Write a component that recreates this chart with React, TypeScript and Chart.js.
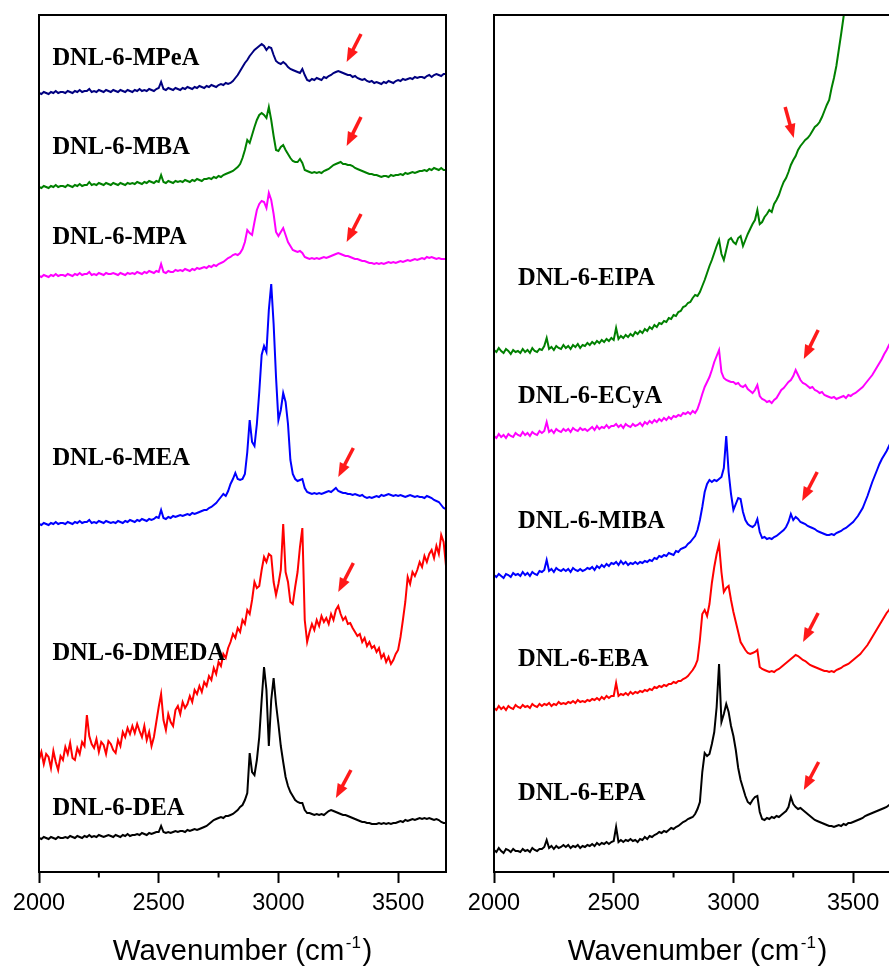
import { useEffect, useRef } from "react";
import { Chart, registerables } from "chart.js";

Chart.register(...registerables);

// Shared wavenumber grid for every spectrum (cm-1)
const WN_START = 2000;
const WN_STEP = 10;
const WN_END = 3700;
const WAVENUMBERS: number[] = [];
for (let w = WN_START; w <= WN_END; w += WN_STEP) WAVENUMBERS.push(w);

const MAJOR_TICKS = [2000, 2500, 3000, 3500];
const MINOR_TICKS = [2250, 2750, 3250];
const AXIS_TITLE = "Wavenumber (cm";
const AXIS_TITLE_SUP = "-1";
const AXIS_TITLE_END = ")";

// Offset-stacked intensities (a.u.), one value per grid point
const MPEA = [
  779, 778, 780, 779, 778, 780, 779, 781, 779, 780,
  780, 779, 781, 780, 779, 781, 780, 782, 780, 781,
  781, 783, 780, 781, 780, 782, 781, 780, 782, 781,
  780, 782, 781, 780, 782, 781, 780, 782, 781, 780,
  782, 781, 783, 781, 782, 781, 783, 782, 781, 783,
  784, 790, 783, 782, 784, 783, 782, 784, 783, 782,
  784, 783, 785, 784, 783, 785, 784, 786, 785, 784,
  786, 785, 787, 786, 785, 787, 788, 787, 789, 788,
  789, 791, 794, 797, 801, 805, 809, 812, 816, 819,
  822, 824, 826, 828, 826, 822, 825, 824, 817, 811,
  809, 808, 810, 808, 805, 803, 802, 801, 800, 799,
  803, 797, 792, 791, 793, 792, 794, 793, 792, 795,
  794, 796, 797, 799, 800, 801, 800, 799, 798, 797,
  797, 795, 796, 794, 793, 792, 793, 791, 790, 791,
  789, 790, 789, 788, 790, 789, 791, 790, 789, 791,
  792, 791, 793, 792, 793, 794, 793, 795, 794, 795,
  795, 794, 796, 797, 795, 797, 798, 797, 796, 798,
  798,
];

const MBA = [
  685, 684, 686, 685, 684, 686, 685, 687, 685, 686,
  686, 685, 687, 686, 685, 687, 686, 688, 686, 687,
  687, 690, 687, 688, 687, 689, 688, 687, 689, 688,
  687, 689, 688, 687, 689, 688, 687, 689, 688, 689,
  688, 690, 689, 688, 690, 689, 691, 690, 689, 691,
  690, 697, 690, 689, 691, 690, 689, 691, 690, 691,
  690, 692, 691, 690, 692, 691, 693, 692, 691, 693,
  693, 694, 693, 695, 694, 696, 695, 697, 698, 699,
  700, 701, 703, 705, 708, 714, 722, 732, 729, 737,
  745, 752, 757, 759, 757, 754, 765, 752, 736, 722,
  721, 725, 727, 722, 718, 714, 711, 710, 710, 713,
  709, 702, 701, 700, 699, 700, 699, 700, 699, 701,
  702, 703, 705, 707, 708, 709, 710, 708, 708, 707,
  707, 706, 704, 703, 702, 701, 700, 699, 698, 698,
  697, 697, 696, 695, 696, 696, 695, 697, 696, 697,
  697, 698, 697, 699, 698, 699, 700, 699, 700, 701,
  701, 702, 701, 703, 702, 704, 703, 702, 704, 702,
  702,
];

const MPA = [
  596, 595, 597, 596, 595, 597, 596, 598, 596, 597,
  597, 596, 598, 597, 596, 598, 597, 599, 597, 598,
  598, 600, 597, 598, 597, 599, 598, 597, 599, 598,
  598, 599, 598, 597, 599, 598, 597, 599, 598, 599,
  598, 600, 599, 598, 600, 599, 601, 600, 599, 601,
  600, 608, 600, 599, 601, 600, 600, 602, 601, 602,
  601, 603, 602, 601, 603, 602, 604, 603, 604, 605,
  604, 606, 605, 607, 606, 608, 609, 610, 612, 614,
  615, 617, 618, 617, 619, 623, 630, 642, 639, 637,
  650, 662, 668, 671, 670, 664, 679, 672, 658, 640,
  636, 640, 644, 637, 630, 626, 622, 621, 620, 621,
  619, 615, 614, 613, 614, 613, 614, 613, 614, 615,
  614, 615, 616, 617, 618, 619, 618, 617, 616, 616,
  615, 614, 613, 613, 612, 611, 611, 610, 609, 609,
  608, 609, 608, 609, 608, 609, 610, 609, 610, 609,
  610, 611, 610, 611, 612, 611, 612, 613, 612, 613,
  614, 613, 615, 614, 615, 614, 613, 614, 613, 613,
  613,
];

const MEA = [
  348, 347, 349, 348, 347, 349, 348, 350, 348, 349,
  349, 348, 350, 349, 348, 350, 349, 351, 349, 350,
  350, 352, 349, 350, 349, 351, 350, 349, 351, 350,
  349, 350, 349, 351, 350, 349, 351, 350, 352, 351,
  350, 352, 351, 353, 352, 351, 353, 352, 353, 355,
  354, 362, 354, 353, 355, 354, 356, 355, 356, 357,
  356, 357, 358, 357, 359, 358, 359, 360, 361, 362,
  362, 364, 365, 367, 369, 372, 375, 378, 376, 381,
  388, 393, 399, 393, 392, 393, 398, 420, 452, 430,
  426, 448, 480, 517, 526, 520, 562, 588, 548, 495,
  452, 462, 479, 470, 448, 412, 398, 393, 391, 392,
  393, 384, 380, 379, 378, 379, 378, 379, 378, 379,
  380, 381, 380, 382, 384, 381, 380, 379, 379, 378,
  378, 377, 378, 377, 376, 377, 375, 374, 375, 374,
  375, 376, 375, 377, 376, 377, 378, 377, 376, 377,
  376, 377, 376, 375, 376, 377, 376, 375, 376, 375,
  375, 374, 376, 375, 374, 372, 371, 370, 367, 364,
  363,
];

const DMEDA = [
  112, 120, 108, 118, 115, 104, 121, 110, 102, 116,
  112, 125, 118, 129, 114, 112, 124, 118, 130, 126,
  157, 136, 128, 124, 133, 120, 130, 127, 118, 131,
  128, 122, 119, 132, 126, 140, 135, 144, 138, 146,
  139, 148, 141, 135, 146, 132, 140, 126, 135, 150,
  165, 178, 152, 142, 158, 150, 146, 162, 166, 158,
  170, 164, 168, 176, 170, 182, 178, 186, 180, 190,
  186, 196, 192, 204, 198, 210, 206, 218, 214, 224,
  230, 238, 234, 244, 240, 252, 248, 262, 258, 272,
  290, 284, 286, 302, 315, 310, 318, 316, 290, 277,
  288, 302, 348, 300, 290, 270, 268, 285, 300, 325,
  344, 252, 230, 240, 248, 242, 252, 246, 256, 250,
  254, 248, 258, 252, 262, 266, 258, 252, 255, 248,
  249, 244, 240, 236, 238, 230, 234, 226, 230, 224,
  226, 220, 224, 214, 218, 210, 215, 208, 212, 218,
  222, 235, 252, 270, 295, 288, 300, 296, 302, 310,
  305, 316, 310, 318, 322, 314, 326, 318, 337, 330,
  306,
];

const DEA = [
  34, 33, 35, 34, 33, 35, 34, 33, 35, 34,
  34, 35, 34, 36, 35, 34, 36, 35, 34, 36,
  35, 37, 35, 36, 35, 37, 36, 35, 36, 37,
  36, 35, 37, 36, 35, 37, 36, 38, 36, 37,
  37, 38, 37, 39, 38, 37, 39, 38, 39, 40,
  40, 46, 40, 39, 40, 39, 40, 41, 40, 41,
  41, 40, 42, 41, 42, 43, 42, 43, 44, 45,
  46, 48, 50, 52, 53, 54, 55, 54, 56, 56,
  57, 58, 60, 62, 65, 67, 72, 79, 119, 100,
  97, 112, 135, 172, 205, 182, 126, 172, 194, 168,
  148, 126, 110, 95, 86, 80, 76, 72, 70, 69,
  69, 62, 59, 59, 58, 57, 58, 57, 58, 57,
  59, 61, 62, 61, 60, 59, 58, 57, 57, 56,
  55, 54, 53, 52, 51, 50, 50, 49, 49, 48,
  48, 48, 49, 48, 49, 48, 49, 48, 49, 49,
  50, 51, 50, 52, 51, 52, 53, 52, 53, 54,
  53, 54, 53, 54, 53, 52, 53, 52, 50, 49,
  49,
];

// EIPA rises out of the frame near 3460 cm-1, so it stops there
const EIPA = [
  522, 520, 524, 521, 519, 523, 521, 518, 522, 520,
  521, 519, 523, 520, 522, 519, 524, 521, 520, 523,
  522, 526, 534, 523, 525, 522, 526, 524, 523, 527,
  524, 526, 523, 527, 525, 528, 524, 527, 526, 529,
  527, 530, 528, 531, 529, 532, 530, 533, 531, 534,
  532, 544, 533, 536, 534, 537, 535, 538, 536, 540,
  538, 541, 539, 543, 541, 545, 543, 547, 545, 549,
  548, 551, 550, 554, 553, 557, 556, 560, 561, 565,
  566, 569, 570, 574, 577, 576, 580, 586, 592, 599,
  606, 612, 619, 626, 632, 618, 612, 622, 632, 634,
  630, 628, 634, 636, 626, 632, 638, 643, 648, 652,
  662, 648, 650, 655, 658, 662, 660, 668, 672, 677,
  684, 690, 694, 700, 707, 712, 716, 722, 726, 729,
  732, 734, 737, 741, 745, 747, 750, 755, 761, 767,
  772, 784, 794, 806, 822, 838, 855, 872, 890,
];

const ECYA = [
  436, 434, 438, 435, 437, 434, 438, 436, 435, 439,
  437, 436, 440, 437, 439, 436, 440, 438, 437, 441,
  439, 441, 450, 440, 442, 439, 443, 441, 440, 443,
  441, 443, 440, 444, 442, 441, 444, 442, 443, 441,
  443, 445, 442, 446, 443, 445, 444, 447, 444, 446,
  446, 448, 445, 447, 444, 448, 446, 445, 448, 446,
  447, 449, 446, 450, 448, 451, 449, 452, 450, 453,
  451, 454, 452, 455, 453, 456, 455, 457, 456, 459,
  458, 460, 458, 461, 459, 463, 470, 478, 485, 490,
  495, 502, 510, 516, 522, 500, 494, 492, 491, 490,
  490, 488, 489, 486, 485, 487, 483, 481, 479, 482,
  487, 476, 473, 472, 470, 471, 469, 472, 474, 478,
  482, 484, 487, 490, 492, 496, 502, 497, 492, 489,
  488, 486, 484, 485, 482, 481, 479, 480, 477, 476,
  475, 474, 475, 473, 474, 475, 476, 474, 477, 476,
  478, 479, 481, 483, 485, 488, 491, 494, 497, 501,
  505, 509, 513, 518, 522, 527, 531, 536, 541, 545,
  550,
];

const MIBA = [
  297, 295, 298, 296, 294, 298, 297, 295, 299, 297,
  298, 296, 300, 297, 299, 296, 300, 298, 297, 301,
  300, 302, 312, 301, 303, 300, 304, 302, 301, 303,
  301, 303, 300, 304, 302, 301, 303, 301, 302, 304,
  303, 305, 302, 306, 304, 307, 305, 308, 306, 309,
  308, 310, 307, 311, 308, 310, 307, 309, 308, 310,
  308, 310, 309, 311, 310, 312, 311, 314, 313, 316,
  315, 317, 316, 319, 318, 317, 321, 320, 323, 324,
  325, 328, 330, 333, 336, 342, 352, 365, 380, 388,
  392, 390, 392, 391, 393, 395, 404, 436, 400, 378,
  362, 368, 374, 373, 360, 352, 348, 346, 345, 347,
  353, 340, 334, 335, 333, 334, 333, 335, 336, 338,
  340, 342, 345, 350, 358, 352, 355, 353, 350, 349,
  348, 346, 345, 344, 343, 341, 340, 339, 338, 337,
  337, 338, 337, 339, 340, 341, 343, 344, 346, 348,
  350, 353, 356, 360, 364, 370, 376, 383, 390, 396,
  402, 408, 413, 417, 421, 426, 431, 436, 440, 445,
  448,
];

const EBA = [
  164, 162, 166, 163, 165, 162, 166, 164, 163, 167,
  165, 164, 167, 165, 166, 164, 168, 166, 165, 168,
  166, 168, 167, 169, 166, 168, 167, 170, 168, 169,
  168, 170, 169, 171, 169, 172, 170, 171, 170, 172,
  171, 173, 172, 174, 172, 175, 173, 176, 174, 176,
  176, 189, 176, 178, 177, 179, 177, 180, 178, 180,
  179, 181, 180, 182, 181, 183, 182, 185, 184, 186,
  185, 187, 186, 188, 188, 190, 189, 191, 191, 193,
  194, 196, 199, 202, 206, 212, 232, 258, 262, 256,
  268, 289, 305, 318, 328, 300, 280, 284, 286, 272,
  260, 250, 240, 230, 226, 222, 219, 218, 219, 220,
  222, 205, 203, 202, 201, 200, 201, 200, 202, 203,
  205, 207, 209, 211, 213, 215, 217, 216, 214, 212,
  211, 209, 207, 206, 205, 204, 203, 202, 201, 201,
  200, 201, 200, 202, 203, 204, 206, 207, 208, 210,
  212, 214, 216, 218, 221, 224, 227, 231, 235, 239,
  243, 247, 251, 255, 259, 262, 266, 270, 274, 278,
  282,
];

const EPA = [
  22, 20, 24, 21, 19, 23, 22, 20, 23, 21,
  21, 20, 23, 21, 22, 20, 24, 22, 21, 23,
  23, 25, 32, 24, 26, 23, 26, 24, 25, 27,
  25, 27, 24, 26, 25, 27, 24, 26, 25, 27,
  26, 28, 26, 29, 27, 29, 28, 30, 28, 30,
  31, 45, 30, 32, 30, 32, 31, 33, 31, 32,
  30, 33, 32, 35, 33, 36, 35, 37, 38, 40,
  39, 41, 40, 42, 44, 43, 45, 46, 48, 50,
  51, 53, 54, 55, 58, 63, 70, 100, 119, 116,
  118, 128, 140, 165, 208, 150, 158, 168, 160, 146,
  136, 122, 104, 92, 84, 76, 70, 68, 72, 75,
  76, 60, 53, 52, 54, 53, 55, 54, 56, 55,
  57, 59, 61, 65, 75, 68, 65, 63, 64, 62,
  60, 58, 56, 54, 52, 51, 50, 49, 48, 47,
  46, 46, 45, 46, 47, 46, 48, 47, 49, 49,
  50, 51, 52, 53, 54, 56, 57, 58, 59, 60,
  61, 62, 63, 64, 65, 67, 68, 69, 70, 71,
  72,
];

type Spectrum = {
  name: string;
  color: string;
  values: number[];
  label: [number, number]; // label anchor (wavenumber, intensity)
  arrowFrom: [number, number];
  arrowTo: [number, number];
};

const LEFT_PANEL: Spectrum[] = [
  { name: "DNL-6-MPeA", color: "#000080", values: MPEA, label: [2056, 815], arrowFrom: [3345, 838], arrowTo: [3285, 810] },
  { name: "DNL-6-MBA", color: "#008000", values: MBA, label: [2056, 726], arrowFrom: [3345, 755], arrowTo: [3285, 726] },
  { name: "DNL-6-MPA", color: "#ff00ff", values: MPA, label: [2056, 636], arrowFrom: [3345, 658], arrowTo: [3285, 630] },
  { name: "DNL-6-MEA", color: "#0000ff", values: MEA, label: [2056, 415], arrowFrom: [3313, 424], arrowTo: [3250, 395] },
  { name: "DNL-6-DMEDA", color: "#ff0000", values: DMEDA, label: [2056, 220], arrowFrom: [3313, 309], arrowTo: [3250, 280] },
  { name: "DNL-6-DEA", color: "#000000", values: DEA, label: [2056, 65], arrowFrom: [3303, 102], arrowTo: [3240, 74] },
];

const RIGHT_PANEL: Spectrum[] = [
  { name: "DNL-6-EIPA", color: "#008000", values: EIPA, label: [2100, 595], arrowFrom: [3216, 765], arrowTo: [3252, 734] },
  { name: "DNL-6-ECyA", color: "#ff00ff", values: ECYA, label: [2100, 477], arrowFrom: [3354, 542], arrowTo: [3294, 513] },
  { name: "DNL-6-MIBA", color: "#0000ff", values: MIBA, label: [2100, 352], arrowFrom: [3350, 400], arrowTo: [3287, 371] },
  { name: "DNL-6-EBA", color: "#ff0000", values: EBA, label: [2100, 214], arrowFrom: [3354, 259], arrowTo: [3291, 230] },
  { name: "DNL-6-EPA", color: "#000000", values: EPA, label: [2100, 80], arrowFrom: [3356, 110], arrowTo: [3294, 82] },
];

const Y_MAX = 857;
const ARROW_COLOR = "#ff1a1a";
const CANVAS_W = 455;
const CANVAS_H = 967;

function makeDecor(spectra: Spectrum[]) {
  return {
    id: "panelDecor",
    afterDatasetsDraw(chart: any) {
      const { ctx, chartArea: a } = chart;
      const x = chart.scales.x;
      const y = chart.scales.y;
      ctx.save();

      // frame around the plot area
      ctx.strokeStyle = "#000";
      ctx.lineWidth = 2;
      ctx.strokeRect(a.left, a.top, a.right - a.left, a.bottom - a.top);

      // minor ticks
      for (const v of MINOR_TICKS) {
        const px = x.getPixelForValue(v);
        ctx.beginPath();
        ctx.moveTo(px, a.bottom);
        ctx.lineTo(px, a.bottom + 5.5);
        ctx.stroke();
      }

      // sample names
      ctx.fillStyle = "#000";
      ctx.font = "bold 24.5px 'Liberation Serif'";
      ctx.textAlign = "left";
      ctx.textBaseline = "alphabetic";
      for (const s of spectra) {
        ctx.fillText(s.name, x.getPixelForValue(s.label[0]), y.getPixelForValue(s.label[1]) + 8);
      }

      // red arrows marking the N-H band
      ctx.fillStyle = ARROW_COLOR;
      ctx.strokeStyle = ARROW_COLOR;
      for (const s of spectra) {
        const tx = x.getPixelForValue(s.arrowFrom[0]);
        const ty = y.getPixelForValue(s.arrowFrom[1]);
        const hx = x.getPixelForValue(s.arrowTo[0]);
        const hy = y.getPixelForValue(s.arrowTo[1]);
        const len = Math.hypot(hx - tx, hy - ty);
        const ux = (hx - tx) / len;
        const uy = (hy - ty) / len;
        const headLen = 14;
        const half = 5.5;
        const bx = hx - ux * headLen;
        const by = hy - uy * headLen;
        ctx.lineWidth = 3.5;
        ctx.beginPath();
        ctx.moveTo(tx, ty);
        ctx.lineTo(bx + ux, by + uy);
        ctx.stroke();
        ctx.beginPath();
        ctx.moveTo(hx, hy);
        ctx.lineTo(bx - uy * half, by + ux * half);
        ctx.lineTo(bx + uy * half, by - ux * half);
        ctx.closePath();
        ctx.fill();
      }

      // axis title with superscript
      const cx = (a.left + a.right) / 2;
      const base = x.bottom - 7;
      const mainFont = "29.5px 'Liberation Sans'";
      const supFont = "17px 'Liberation Sans'";
      const gap = 1.5;
      ctx.fillStyle = "#000";
      ctx.font = mainFont;
      const w1 = ctx.measureText(AXIS_TITLE).width;
      const w3 = ctx.measureText(AXIS_TITLE_END).width;
      ctx.font = supFont;
      const w2 = ctx.measureText(AXIS_TITLE_SUP).width;
      let start = cx - (w1 + w2 + w3 + 2 * gap) / 2;
      ctx.font = mainFont;
      ctx.fillText(AXIS_TITLE, start, base);
      start += w1 + gap;
      ctx.font = supFont;
      ctx.fillText(AXIS_TITLE_SUP, start, base - 12);
      start += w2 + gap;
      ctx.font = mainFont;
      ctx.fillText(AXIS_TITLE_END, start, base);

      ctx.restore();
    },
  };
}

function SpectraPanel({ spectra, left }: { spectra: Spectrum[]; left: number }) {
  const ref = useRef<HTMLCanvasElement | null>(null);

  useEffect(() => {
    if (!ref.current) return;
    const chart = new Chart(ref.current, {
      type: "line",
      data: {
        datasets: spectra.map((s) => ({
          label: s.name,
          data: s.values.map((v, i) => ({ x: WAVENUMBERS[i], y: v })),
          borderColor: s.color,
          backgroundColor: s.color,
          borderWidth: 2,
          pointRadius: 0,
          tension: 0,
          fill: false,
        })),
      },
      options: {
        animation: false,
        responsive: false,
        devicePixelRatio: 1,
        events: [],
        layout: { padding: { left: 39, right: 9, top: 15, bottom: 0 } },
        plugins: { legend: { display: false }, tooltip: { enabled: false }, title: { display: false } },
        scales: {
          x: {
            type: "linear",
            min: WN_START,
            max: WN_END,
            afterBuildTicks: (scale: any) => {
              scale.ticks = MAJOR_TICKS.map((value) => ({ value }));
            },
            ticks: {
              autoSkip: false,
              maxRotation: 0,
              padding: 6,
              color: "#000",
              font: { family: "'Liberation Sans'", size: 23.5 },
              callback: (v: any) => String(v),
            },
            grid: { drawOnChartArea: false, drawTicks: true, tickLength: 11, tickWidth: 2, tickColor: "#000" },
            border: { display: false },
            afterFit: (scale: any) => {
              scale.height = 95;
            },
          },
          y: { display: false, min: 0, max: Y_MAX },
        },
      } as any,
      plugins: [makeDecor(spectra)],
    });
    return () => chart.destroy();
  }, [spectra]);

  return (
    <canvas
      ref={ref}
      width={CANVAS_W}
      height={CANVAS_H}
      style={{ position: "absolute", left, top: 0, width: CANVAS_W, height: CANVAS_H }}
    />
  );
}

export default function App() {
  return (
    <div
      style={{
        position: "absolute",
        left: 0,
        top: 0,
        width: 889,
        height: 967,
        overflow: "hidden",
        background: "#fff",
      }}
    >
      <SpectraPanel spectra={LEFT_PANEL} left={0} />
      <SpectraPanel spectra={RIGHT_PANEL} left={455} />
    </div>
  );
}
